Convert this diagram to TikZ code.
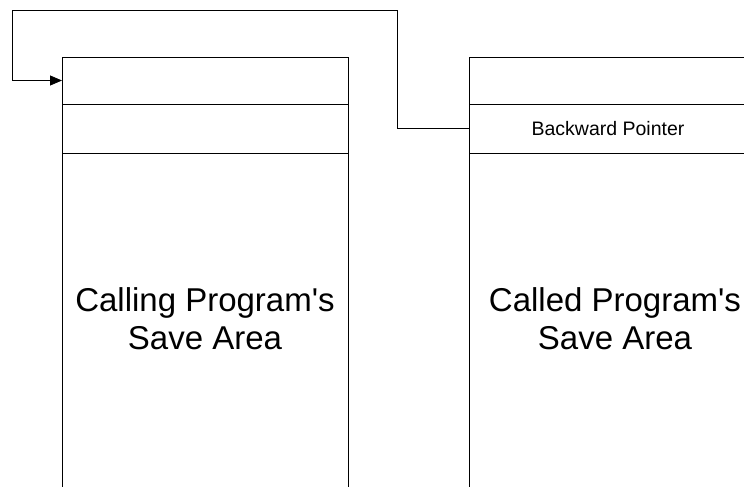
\documentclass[tikz,border=0pt]{standalone}
\usepackage{fontspec}
\setmainfont{Liberation Sans}
\usetikzlibrary{positioning,arrows.meta}

\begin{document}
\begin{tikzpicture}[
  x=1pt, y=-1pt,
  line width=0.9pt,
  cellbox/.style = {draw, minimum width=286pt, minimum height=47pt, inner sep=0pt,
                    outer sep=0pt},
  ptrbox/.style = {cellbox, minimum height=49pt, font=\fontsize{19.5}{22}\selectfont},
  areabox/.style = {draw, minimum width=286pt, minimum height=380pt, inner sep=0pt,
                    outer sep=0pt},
  areatext/.style = {align=center, inner sep=0pt, font=\fontsize{33}{38}\selectfont},
  link/.style = {-{Triangle[length=12pt, width=10pt]}, line width=0.9pt},
]
\clip (0,0) rectangle (744,487);

% ---------- calling program's save area ----------
\node[cellbox, anchor=north west] (callhead) at (62,57) {};
\node[ptrbox, below=0pt of callhead] (callptr) {};
\node[areabox, below=0pt of callptr] (callarea) {};
\node[areatext, below=134pt of callptr] (calltext) {Calling Program\textquotesingle s\\ Save Area};

% ---------- called program's save area ----------
\node[cellbox, minimum width=278pt, anchor=north west] (calledhead) at (469,57) {};
\node[ptrbox, minimum width=278pt, below=0pt of calledhead] (calledptr) {Backward Pointer};
\node[areabox, minimum width=278pt, below=0pt of calledptr] (calledarea) {};
\node[areatext, below=134pt of calledptr, xshift=7pt] (calledtext) {Called Program\textquotesingle s\\ Save Area};

% ---------- backward pointer loops back over the top ----------
\coordinate (loopne) at (397,10);
\coordinate (loopnw) at (12,10);
\draw[link] (calledptr.west) -| (loopne) -- (loopnw) |- (callhead.west);

\end{tikzpicture}
\end{document}
